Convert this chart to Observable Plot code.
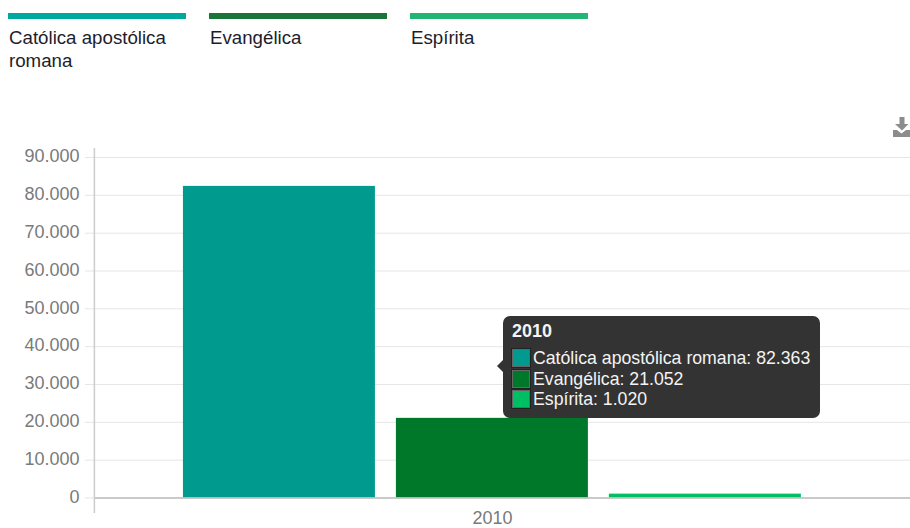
<!DOCTYPE html>
<html><head><meta charset="utf-8">
<script src="https://cdn.jsdelivr.net/npm/d3@7"></script>
<script src="https://cdn.jsdelivr.net/npm/@observablehq/plot@0.6"></script>
<style>
html,body{margin:0;padding:0;width:910px;height:528px;overflow:hidden;background:#fff;font-family:"Liberation Sans",Arial,sans-serif}
#legend{position:absolute;left:0;top:0;width:910px;height:110px}
.lg{position:absolute;top:13px;width:178px}
.lg .bar{height:6px}
.lg .t{margin-top:7px;font-size:18.7px;line-height:23px;color:#1d1d2b;margin-left:1px;white-space:nowrap}
#chart{position:absolute;left:0;top:110px}
#chart svg{display:block;overflow:hidden}
#tip{position:absolute;left:503px;top:316px;width:317px;height:102px;background:#333;border-radius:7px;color:#f4f4f4;font-size:17.7px;box-sizing:border-box}
#tip:before{content:"";position:absolute;left:-6px;top:44px;border-top:6px solid transparent;border-bottom:6px solid transparent;border-right:6px solid #333}
#tip .h{position:absolute;left:9px;top:5px;font-weight:700;font-size:18px;line-height:21px}
#tip .r{position:absolute;left:9px;white-space:nowrap;line-height:20px;height:20px}
#tip .s{position:absolute;left:0;top:1px;width:16px;height:16px;border:1px solid #666;box-shadow:0 0 0 1px #222}
#tip .l{position:absolute;left:21px;top:0}
#dl{position:absolute;left:893px;top:117px}
</style></head><body>
<div id="legend"></div>
<div id="chart"></div>
<div id="tip"></div>
<svg id="dl" width="17" height="20" viewBox="0 0 17 20"><path fill="#8c8c8c" d="M6.5 0h5v7h4l-6.5 6.5L2 7h4.5zM0 13h4l4.5 3.5L13 13h4v7H0z"/></svg>
<script>
const year = "2010";
const categories = ["Católica apostólica romana", "Evangélica", "Espírita"];
const values = [82363, 21052, 1020];
const barColors = ["#009a8e", "#00782a", "#00bf63"];
const legendColors = ["#00a99d", "#1a7539", "#22b573"];
const legendLeft = [8, 209, 410];
const yTicks = [0, 10000, 20000, 30000, 40000, 50000, 60000, 70000, 80000, 90000];
const fmtInt = v => d3.format(",")(v).replace(/,/g, ".");

const rows = categories.map((c, i) => ({c, v: values[i]}));
const legend = document.getElementById("legend");
categories.forEach((c, i) => {
  const d = document.createElement("div");
  d.className = "lg"; d.style.left = legendLeft[i] + "px";
  d.innerHTML = `<div class="bar" style="background:${legendColors[i]}"></div><div class="t">${c.replace(" romana", "<br>romana")}</div>`;
  legend.appendChild(d);
});
const tip = document.getElementById("tip");
tip.innerHTML = `<div class="h">${year}</div>` + categories.map((c, i) =>
  `<div class="r" style="top:${32 + i * 20.5}px"><span class="s" style="background:${barColors[i]}"></span><span class="l">${c}: ${fmtInt(values[i])}</span></div>`).join("");

const middle = categories[1];
const chart = Plot.plot({
  width: 910, height: 418,
  marginLeft: 94, marginRight: 0, marginTop: 47, marginBottom: 30.5,
  style: {fontFamily: '"Liberation Sans",Arial,sans-serif', background: "#fff"},
  x: {domain: categories, paddingInner: 21 / 213, paddingOuter: 0.465, align: 0.449, round: false, axis: null},
  y: {domain: [0, 90000], axis: null},
  color: {domain: categories, range: barColors},
  marks: [
    Plot.gridY(yTicks, {stroke: "#e6e6e6", strokeOpacity: 1, strokeWidth: 1}),
    Plot.axisY(yTicks, {anchor: "left", tickSize: 9, fill: "none", stroke: "#e6e6e6", strokeOpacity: 1, label: null}),
    Plot.axisY(yTicks, {anchor: "left", tickSize: 0, tickPadding: 15, dy: -1, fill: "#7a7a7a", fontSize: 18, tickFormat: fmtInt, label: null}),
    Plot.barY(rows, {x: "c", y: "v", fill: "c"}),
    Plot.ruleY([0], {stroke: "#bdbdbd", strokeWidth: 1.5}),
    Plot.ruleX([middle], {y1: -4100, y2: 92400, dx: -398, stroke: "#cccccc", strokeWidth: 1.5}),
    Plot.text([year], {x: () => middle, frameAnchor: "bottom", dy: 26, fill: "#7a7a7a", fontSize: 18, text: d => d})
  ]
});
document.getElementById("chart").appendChild(chart);
</script>
</body></html>
